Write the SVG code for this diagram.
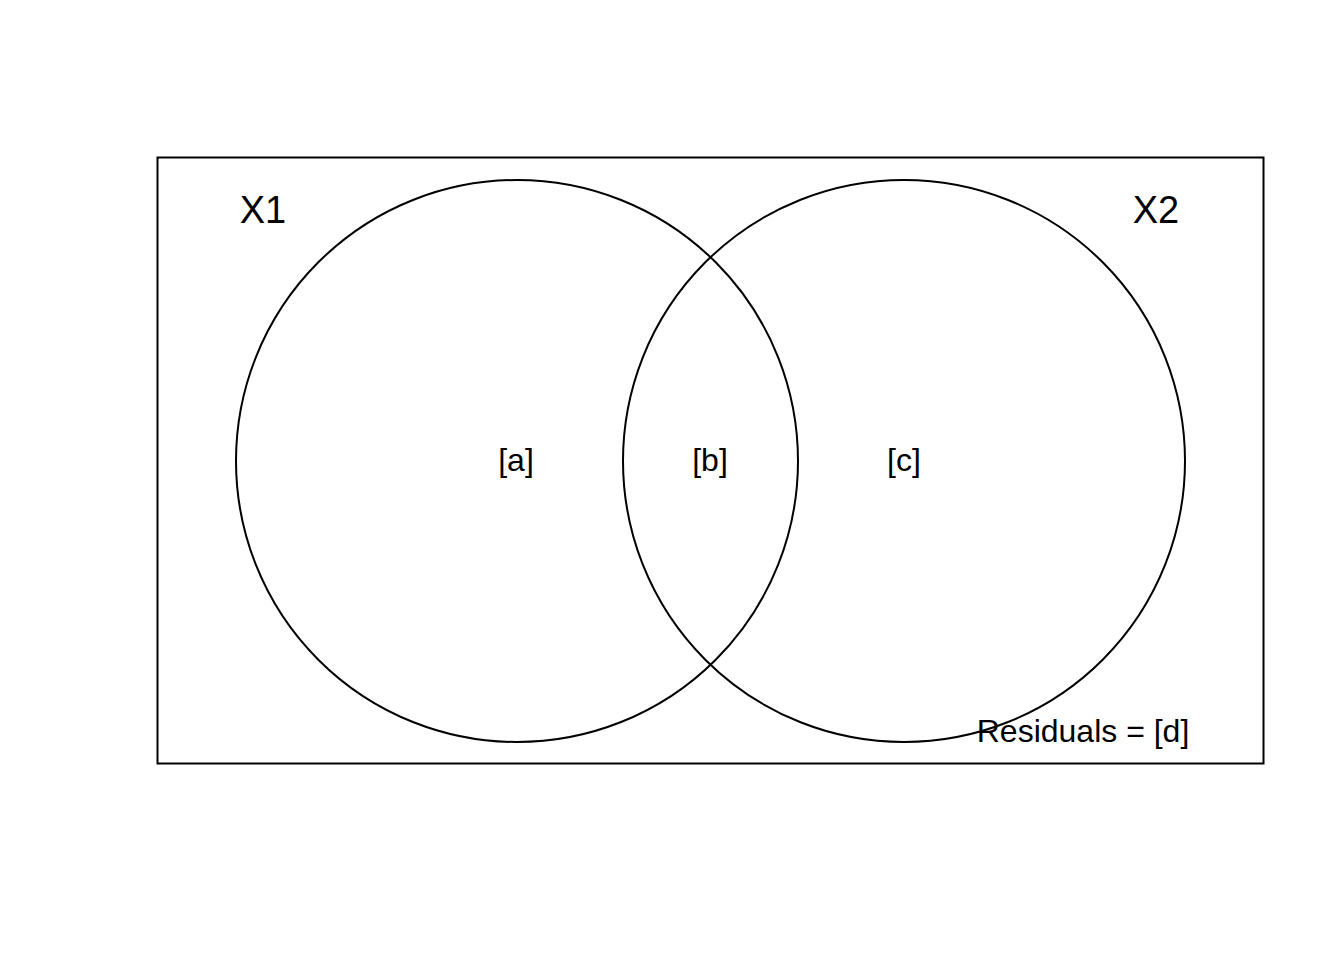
<svg xmlns="http://www.w3.org/2000/svg" width="1344" height="960" viewBox="0 0 1344 960">
<style>
.ln{fill:none;stroke:#000;stroke-width:2}
.t{font-family:"Liberation Sans",Arial,sans-serif;fill:#000;text-anchor:middle}
.big{font-size:38px}
.lab{font-size:32px}
</style>
<rect width="1344" height="960" fill="#fff"/>
<g id="frame"><rect class="ln" x="157.5" y="157.5" width="1106" height="606"/></g>
<g id="connectors"></g>
<g id="X1"><circle class="ln" cx="517" cy="461" r="281"/><text class="t big" x="263" y="223">X1</text></g>
<g id="X2"><circle class="ln" cx="904" cy="461" r="281"/><text class="t big" x="1156" y="223">X2</text></g>
<g id="fa"><text class="t lab" x="516" y="471">[a]</text></g>
<g id="fb"><text class="t lab" x="710" y="471">[b]</text></g>
<g id="fc"><text class="t lab" x="904" y="471">[c]</text></g>
<g id="fd"><text class="t lab" x="1083" y="742">Residuals = [d]</text></g>
</svg>
